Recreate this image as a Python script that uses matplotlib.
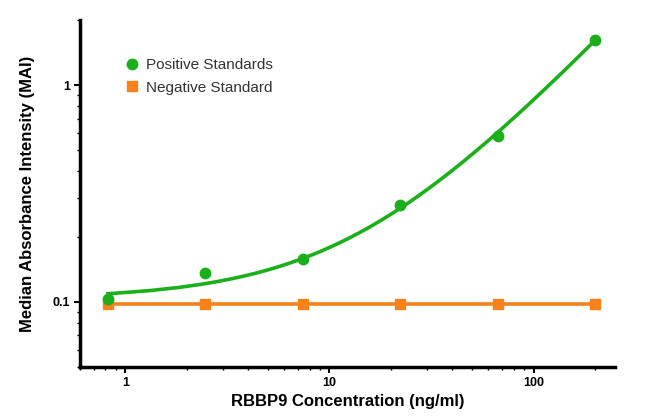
import numpy as np
import matplotlib.pyplot as plt
from matplotlib.ticker import LogLocator, FixedLocator, NullFormatter

plt.rcParams['font.family'] = ['Liberation Sans', 'DejaVu Sans']

# standards: 3-fold dilution series (ng/ml)
conc = [0.823, 2.47, 7.41, 22.2, 66.7, 200.0]
positive = [0.103, 0.136, 0.158, 0.281, 0.58, 1.62]
negative = [0.098, 0.098, 0.098, 0.098, 0.098, 0.098]

green = '#1bb01b'
orange = '#f7821b'

fig = plt.figure(figsize=(6.5, 4.18), dpi=100)
ax = fig.add_axes([0.123, 0.122, 0.823, 0.83])

# linear fit of the positive standards
coef = np.polyfit(conc, positive, 1)
xfit = np.linspace(min(conc), max(conc), 400)
ax.plot(xfit, np.polyval(coef, xfit), color=green, lw=2.6, zorder=3)

ax.plot(conc, negative, color=orange, lw=2.6, marker='s', ms=7,
        label='Negative Standard', zorder=2)
ax.plot(conc, positive, ls='none', color=green, marker='o', ms=7.5,
        label='Positive Standards', zorder=4)

ax.set_xscale('log')
ax.set_yscale('log')
ax.set_xlim(0.6, 250)
ax.set_ylim(0.05, 2.0)

ax.xaxis.set_major_locator(FixedLocator([1, 10, 100]))
ax.set_xticklabels(['1', '10', '100'])
ax.yaxis.set_major_locator(FixedLocator([0.1, 1]))
ax.set_yticklabels(['0.1', '1'])
ax.xaxis.set_minor_locator(LogLocator(base=10, subs=np.arange(2, 10)))
ax.yaxis.set_minor_locator(LogLocator(base=10, subs=np.arange(2, 10)))
ax.xaxis.set_minor_formatter(NullFormatter())
ax.yaxis.set_minor_formatter(NullFormatter())

for s in ['top', 'right']:
    ax.spines[s].set_visible(False)
for s in ['left', 'bottom']:
    ax.spines[s].set_linewidth(2.5)

ax.tick_params(which='major', length=4, width=1.5, labelsize=9, pad=3)
ax.tick_params(which='minor', length=2.5, width=1)
for lab in ax.get_xticklabels() + ax.get_yticklabels():
    lab.set_fontweight('bold')

ax.set_xlabel('RBBP9 Concentration (ng/ml)', fontsize=12, fontweight='bold', labelpad=4)
ax.set_ylabel('Median Absorbance Intensity (MAI)', fontsize=12, fontweight='bold', labelpad=13)

handles, labels = ax.get_legend_handles_labels()
leg = ax.legend(handles[::-1], labels[::-1], loc='upper left',
                bbox_to_anchor=(0.06, 0.93), frameon=False, fontsize=11,
                handlelength=0.8, handletextpad=0.5, labelspacing=0.55)
for h in leg.legend_handles:
    h.set_linestyle('none')
for t in leg.get_texts():
    t.set_color('#333333')

fig.savefig('out.png', dpi=100)
